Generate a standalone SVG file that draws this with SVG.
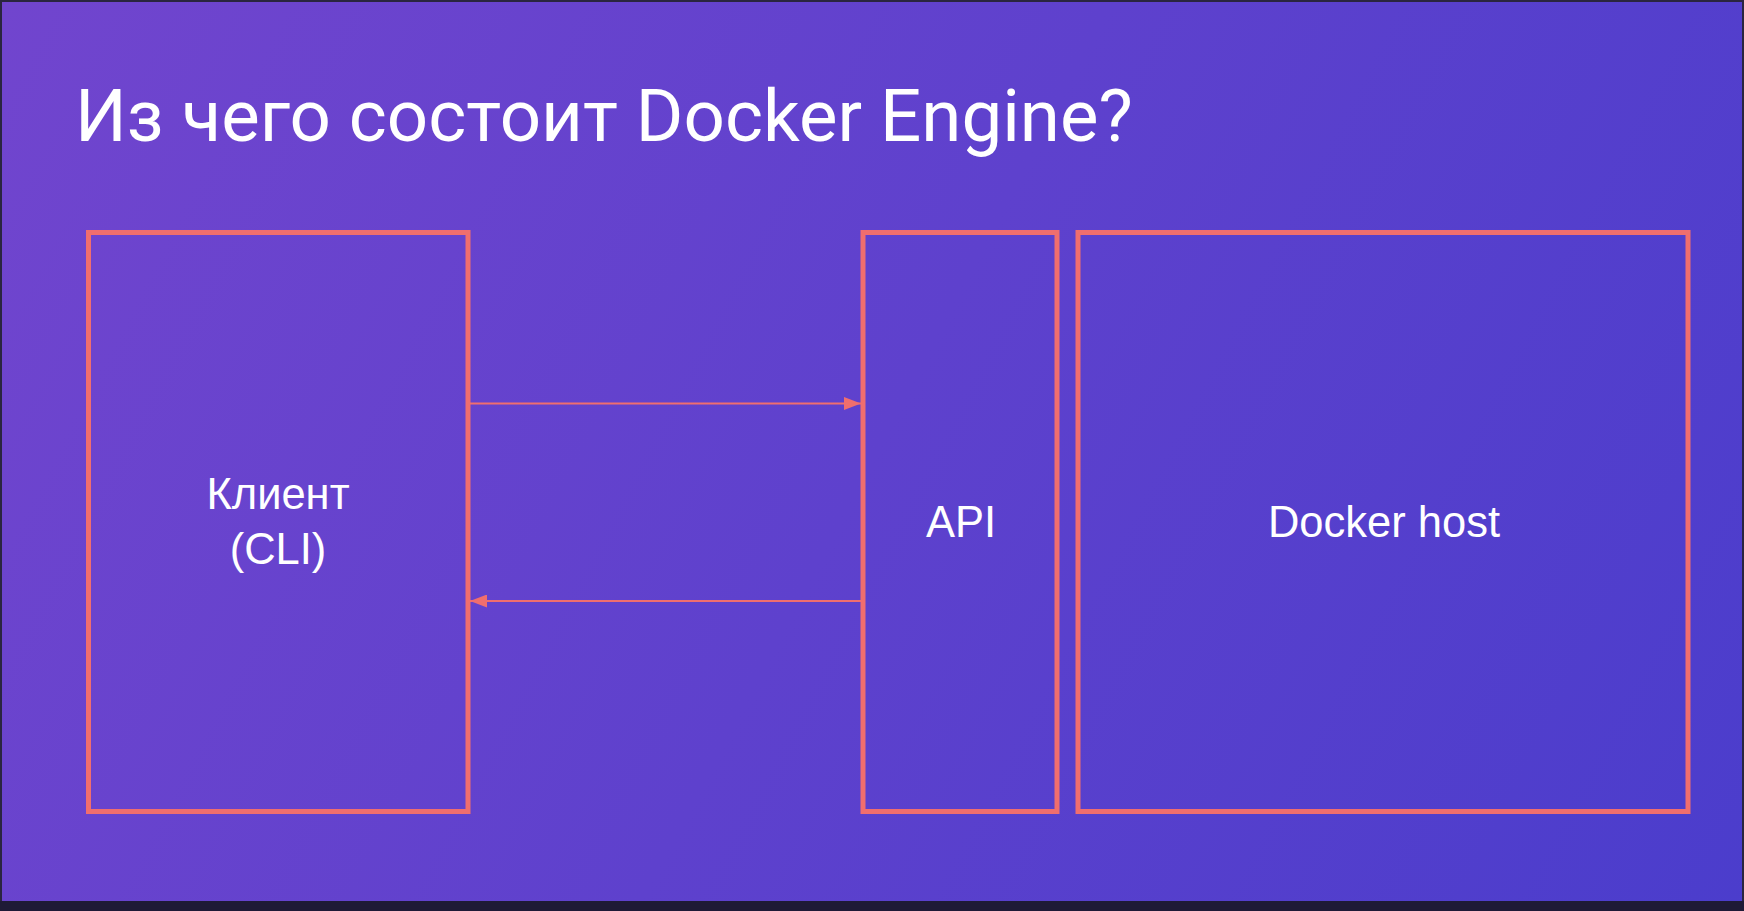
<svg xmlns="http://www.w3.org/2000/svg" width="1744" height="911" viewBox="0 0 1744 911">
<style>
.box{fill:none;stroke:#F06E6E;stroke-width:5}
.conn{stroke:#F06E6E;stroke-width:2;fill:none}
.lbl{fill:#FFFFFF;font-family:"Liberation Sans",Arial,sans-serif;font-size:43.5px;text-anchor:middle}
.title{fill:#FFFFFF;font-family:Roboto,"Noto Sans",sans-serif;font-size:72.6px}
</style>
<defs>
<linearGradient id="bg" x1="0" y1="0" x2="1744" y2="911" gradientUnits="userSpaceOnUse">
<stop offset="0" stop-color="#7145CE"/>
<stop offset="1" stop-color="#4B3DCC"/>
</linearGradient>
<marker id="ah" markerWidth="17" markerHeight="13" refX="17" refY="6.5" orient="auto" markerUnits="userSpaceOnUse">
<path d="M0,0 L17,6.5 L0,13 Z" fill="#F06E6E"/>
</marker>
</defs>
<rect x="0" y="0" width="1744" height="911" fill="url(#bg)"/>
<rect x="0" y="0" width="1744" height="2" fill="#2A2540"/>
<rect x="0" y="0" width="2" height="911" fill="#2A2540"/>
<rect x="1742" y="0" width="2" height="911" fill="#2A2540"/>
<rect x="0" y="901" width="1744" height="10" fill="#1E1A36"/>
<text class="title" x="75" y="141">Из чего состоит Docker Engine?</text>
<g id="client">
<rect class="box" x="88.5" y="232.5" width="379.5" height="579"/>
<text class="lbl" x="278" y="509">Клиент</text>
<text class="lbl" x="278" y="564">(CLI)</text>
</g>
<g id="api">
<rect class="box" x="863" y="232.5" width="194" height="579"/>
<text class="lbl" x="961" y="537">API</text>
</g>
<g id="dockerhost">
<rect class="box" x="1078" y="232.5" width="610" height="579"/>
<text class="lbl" x="1384" y="537">Docker host</text>
</g>
<g id="connectors">
<line class="conn" x1="470" y1="403.5" x2="861" y2="403.5" marker-end="url(#ah)"/>
<line class="conn" x1="861" y1="601" x2="470" y2="601" marker-end="url(#ah)"/>
</g>
</svg>
